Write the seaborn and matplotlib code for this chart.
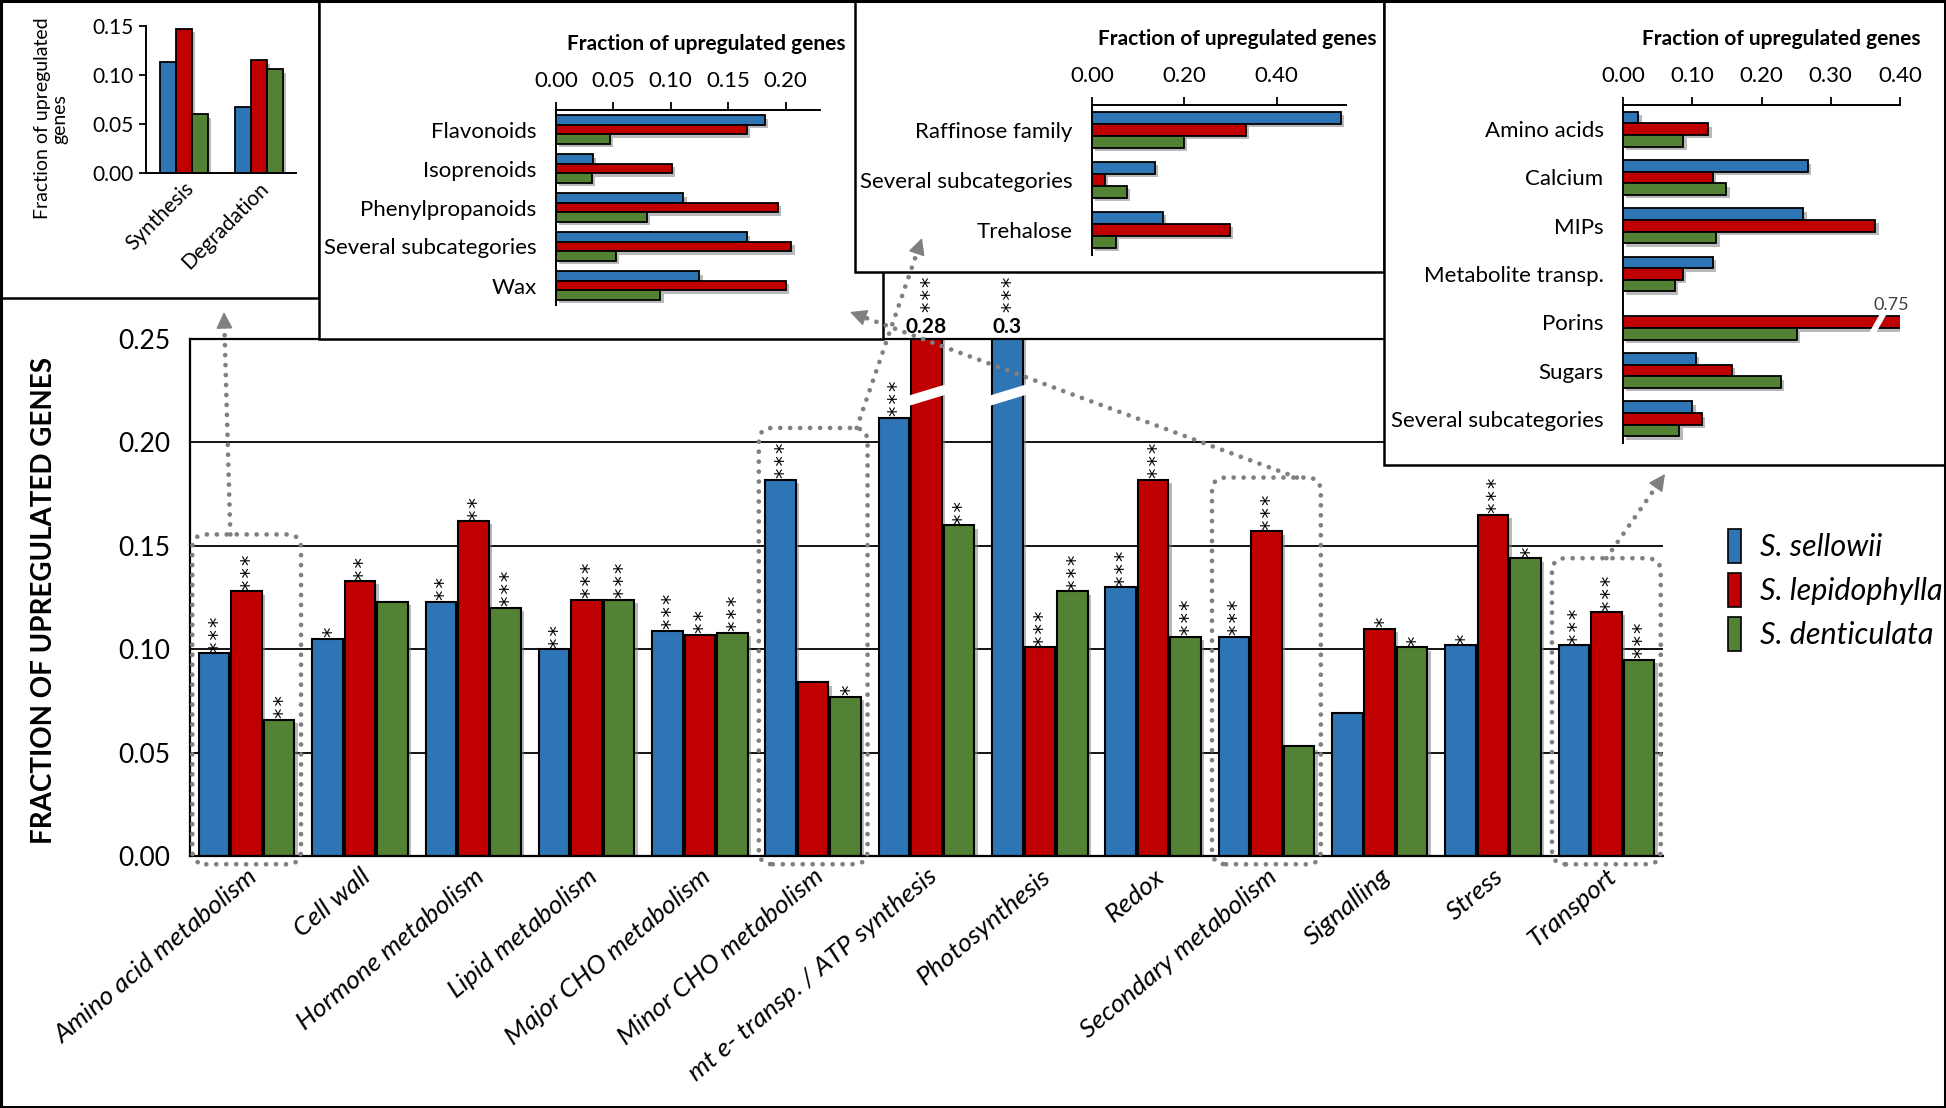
import numpy as np
import pandas as pd
import matplotlib
matplotlib.use("Agg")
import matplotlib.pyplot as plt
import matplotlib.patheffects as pe
import seaborn as sns
from matplotlib.patches import Rectangle, FancyBboxPatch, Polygon, Patch, FancyArrowPatch
from matplotlib.lines import Line2D
from matplotlib.transforms import IdentityTransform

# ---- data ----
species = ["S. sellowii", "S. lepidophylla", "S. denticulata"]
colors = ["#2E75B6", "#C00000", "#548235"]

categories = ["Amino acid metabolism", "Cell wall", "Hormone metabolism", "Lipid metabolism",
              "Major CHO metabolism", "Minor CHO metabolism", "mt e- transp. / ATP synthesis",
              "Photosynthesis", "Redox", "Secondary metabolism", "Signalling", "Stress", "Transport"]
sellowii = [0.098, 0.105, 0.123, 0.100, 0.109, 0.182, 0.212, 0.30, 0.130, 0.106, 0.069, 0.102, 0.102]
lepidophylla = [0.128, 0.133, 0.162, 0.124, 0.107, 0.084, 0.28, 0.101, 0.182, 0.157, 0.110, 0.165, 0.118]
denticulata = [0.066, 0.123, 0.120, 0.124, 0.108, 0.077, 0.160, 0.128, 0.106, 0.053, 0.101, 0.144, 0.095]
sig_sellowii = ["***", "*", "**", "**", "***", "***", "***", "***", "***", "***", "", "*", "***"]
sig_lepidophylla = ["***", "**", "**", "***", "**", "", "***", "***", "***", "***", "*", "***", "***"]
sig_denticulata = ["**", "", "***", "***", "***", "*", "**", "***", "***", "", "*", "*", "***"]

aa_categories = ["Synthesis", "Degradation"]
aa_sellowii = [0.113, 0.067]
aa_lepidophylla = [0.147, 0.115]
aa_denticulata = [0.060, 0.106]

sm_categories = ["Flavonoids", "Isoprenoids", "Phenylpropanoids", "Several subcategories", "Wax"]
sm_sellowii = [0.182, 0.032, 0.111, 0.166, 0.125]
sm_lepidophylla = [0.166, 0.101, 0.193, 0.205, 0.200]
sm_denticulata = [0.047, 0.031, 0.079, 0.052, 0.091]

minor_categories = ["Raffinose family", "Several subcategories", "Trehalose"]
minor_sellowii = [0.539, 0.136, 0.153]
minor_lepidophylla = [0.333, 0.028, 0.298]
minor_denticulata = [0.199, 0.075, 0.051]

tr_categories = ["Amino acids", "Calcium", "MIPs", "Metabolite transp.", "Porins", "Sugars",
                 "Several subcategories"]
tr_sellowii = [0.022, 0.267, 0.260, 0.130, np.nan, 0.105, 0.100]
tr_lepidophylla = [0.123, 0.130, 0.364, 0.086, 0.75, 0.157, 0.114]
tr_denticulata = [0.087, 0.149, 0.135, 0.075, 0.251, 0.228, 0.081]


def long_table(cats, a, b, c):
    return pd.DataFrame({"category": list(cats) * 3,
                         "species": np.repeat(species, len(cats)),
                         "value": list(a) + list(b) + list(c)})


plt.rcParams["font.family"] = ["Lato", "DejaVu Sans"]
W, H = 1946, 1108
fig = plt.figure(figsize=(W / 100, H / 100), dpi=100)
fig.patch.set_facecolor("white")
shadow = [pe.SimplePatchShadow(offset=(2.5, -2.5), shadow_rgbFace="0.5", alpha=0.55), pe.Normal()]
GRAY = "#808080"
DOTS = (0, (0.01, 2.1))


def px_axes(left, top, right, bottom, z):
    ax = fig.add_axes([left / W, 1 - bottom / H, (right - left) / W, (bottom - top) / H])
    ax.set_zorder(z)
    return ax


def px_box(left, top, right, bottom, z):
    fig.add_artist(Rectangle((left, H - bottom), right - left, bottom - top,
                             transform=IdentityTransform(), facecolor="white",
                             edgecolor="black", lw=1.8, zorder=z))


def style_bars(ax):
    for p in ax.patches:
        p.set_path_effects(shadow)


# ---- main chart ----
ax = px_axes(190, 339, 1663, 856, 1)
main_df = long_table(categories, sellowii, lepidophylla, denticulata)
sns.barplot(data=main_df, x="category", y="value", hue="species", order=categories,
            hue_order=species, palette=colors, saturation=1, width=0.86, gap=0.06,
            edgecolor="black", linewidth=1.5, errorbar=None, legend=False, ax=ax)
style_bars(ax)
ax.set_xlim(-0.5, len(categories) - 0.5)
ax.set_ylim(0, 0.25)
ax.set_yticks(np.arange(0, 0.251, 0.05))
ax.set_yticklabels([f"{t:.2f}" for t in np.arange(0, 0.251, 0.05)], fontsize=19)
ax.set_axisbelow(True)
ax.yaxis.grid(True, color="black", lw=1.3)
ax.spines["right"].set_visible(False)
for s in ["left", "bottom", "top"]:
    ax.spines[s].set_linewidth(1.6)
ax.tick_params(axis="y", length=0, pad=14)
ax.tick_params(axis="x", length=0, pad=6)
ax.set_xlabel("")
ax.set_ylabel("")
ax.set_xticks(range(len(categories)))
ax.set_xticklabels(categories, rotation=40, ha="right", rotation_mode="anchor",
                   fontsize=19, style="italic")
ax.set_facecolor("none")

sigs = [sig_sellowii, sig_lepidophylla, sig_denticulata]
for cont, sig in zip(ax.containers, sigs):
    for bar, s in zip(cont, sig):
        cx = bar.get_x() + bar.get_width() / 2
        h = bar.get_height()
        if h > 0.25:
            ax.text(cx, 0.2512, f"{h:g}", ha="center", va="bottom", fontsize=15,
                    fontweight="bold", clip_on=False)
            base = 0.2625
            y0, w = 0.2175, bar.get_width()
            ax.add_patch(Polygon([(bar.get_x() - 0.03, y0), (bar.get_x() + w + 0.03, y0 + 0.0055),
                                  (bar.get_x() + w + 0.03, y0 + 0.0105), (bar.get_x() - 0.03, y0 + 0.005)],
                                 facecolor="white", edgecolor="none", zorder=5))
        else:
            base = h
        if s:
            # asterisks stacked vertically above the bar
            ax.annotate("\u200a".join(s), (cx, base), xytext=(3.2, 1), textcoords="offset points",
                        rotation=90, ha="center", va="bottom", fontsize=15,
                        family=["DejaVu Sans", "Noto Sans"], annotation_clip=False)

fig.text(44 / W, 1 - 600 / H, "FRACTION OF UPREGULATED GENES", rotation=90, ha="center",
         va="center", fontsize=20, fontweight="bold")

handles = [Patch(facecolor=c, edgecolor="black", lw=1.2) for c in colors]
fig.legend(handles, species, loc="center left", bbox_to_anchor=(1700 / W, 1 - 590 / H),
           frameon=False, prop={"style": "italic", "size": 22}, handlelength=0.45,
           handleheight=1.3, handletextpad=0.6, labelspacing=0.35)

# ---- inset boxes and axes ----
px_box(0, 0, 319, 298, 2)
px_box(319, 0, 883, 339, 4)
px_box(855, 0, 1384, 272, 6)
px_box(1384, 0, 1946, 465, 8)

# amino acid inset (vertical)
ax1 = px_axes(146, 26, 296, 173, 3)
sns.barplot(data=long_table(aa_categories, aa_sellowii, aa_lepidophylla, aa_denticulata),
            x="category", y="value", hue="species", hue_order=species, palette=colors,
            saturation=1, width=0.64, edgecolor="black", linewidth=1.3, errorbar=None,
            legend=False, ax=ax1)
style_bars(ax1)
ax1.set_xlim(-0.5, 1.5)
ax1.set_ylim(0, 0.15)
ax1.set_yticks([0, 0.05, 0.10, 0.15])
ax1.set_yticklabels(["0.00", "0.05", "0.10", "0.15"], fontsize=15)
ax1.tick_params(axis="y", length=5, width=1.3, direction="out", pad=4)
ax1.tick_params(axis="x", length=0, pad=4)
ax1.set_xticks([0, 1])
ax1.set_xticklabels(aa_categories, rotation=45, ha="right", rotation_mode="anchor", fontsize=15)
for s in ["top", "right"]:
    ax1.spines[s].set_visible(False)
for s in ["left", "bottom"]:
    ax1.spines[s].set_linewidth(1.4)
ax1.set_xlabel("")
ax1.set_ylabel("Fraction of upregulated\ngenes", fontsize=14, linespacing=1.0)
ax1.yaxis.set_label_coords(-0.52, 0.37)
ax1.set_facecolor("none")


def horizontal_inset(rect, z, cats, a, b, c, xmax, ticks, labels):
    axh = px_axes(*rect, z)
    sns.barplot(data=long_table(cats, a, b, c), y="category", x="value", hue="species",
                order=cats, hue_order=species, palette=colors, saturation=1, orient="h",
                width=0.72, edgecolor="black", linewidth=1.3, errorbar=None, legend=False,
                ax=axh)
    style_bars(axh)
    axh.set_xlim(0, xmax)
    axh.set_ylim(len(cats) - 0.5, -0.5)
    axh.xaxis.tick_top()
    axh.xaxis.set_label_position("top")
    axh.set_xticks(ticks)
    axh.set_xticklabels(labels, fontsize=16)
    axh.tick_params(axis="x", length=6, width=1.3, direction="out", pad=8)
    axh.tick_params(axis="y", length=0, pad=14, labelsize=16)
    for s in ["bottom", "right"]:
        axh.spines[s].set_visible(False)
    axh.spines["top"].set_linewidth(1.4)
    axh.spines["left"].set_linewidth(1.4)
    axh.set_ylabel("")
    axh.set_xlabel("Fraction of upregulated genes", fontsize=15, fontweight="bold", labelpad=15)
    axh.xaxis.label.set_x(0.57)
    axh.set_facecolor("none")
    return axh


horizontal_inset((556, 110, 820, 305), 5, sm_categories, sm_sellowii, sm_lepidophylla,
                 sm_denticulata, 0.23, [0, 0.05, 0.10, 0.15, 0.20],
                 ["0.00", "0.05", "0.10", "0.15", "0.20"])
horizontal_inset((1092, 105, 1346, 255), 7, minor_categories, minor_sellowii,
                 minor_lepidophylla, minor_denticulata, 0.55, [0, 0.2, 0.4],
                 ["0.00", "0.20", "0.40"])
ax4 = horizontal_inset((1623, 105, 1900, 443), 9, tr_categories, tr_sellowii, tr_lepidophylla,
                       tr_denticulata, 0.40, [0, 0.1, 0.2, 0.3, 0.4],
                       ["0.00", "0.10", "0.20", "0.30", "0.40"])
porin = ax4.containers[1][tr_categories.index("Porins")]
py0, ph = porin.get_y(), porin.get_height()
ax4.add_patch(Polygon([(0.356, py0 + ph + 0.08), (0.366, py0 + ph + 0.08),
                       (0.382, py0 - 0.08), (0.372, py0 - 0.08)],
                      facecolor="white", edgecolor="none", zorder=5, clip_on=False))
ax4.text(0.388, py0 - 0.08, f"{porin.get_width():.2f}", ha="center", va="bottom",
         fontsize=13, color="#404040")

# ---- dotted group boxes and arrows ----
box_tops = {"Amino acid metabolism": 0.1555, "Minor CHO metabolism": 0.207,
            "Secondary metabolism": 0.183, "Transport": 0.144}
arrow_tips = {"Amino acid metabolism": (0.35, (224, 312)),
              "Minor CHO metabolism": (0.9, (922, 238)),
              "Secondary metabolism": (0.78, (850, 312)),
              "Transport": (0.5, (1665, 474))}
for name, top in box_tops.items():
    j = categories.index(name)
    x0, y0 = ax.transData.transform((j - 0.48, -0.004))
    x1, y1 = ax.transData.transform((j + 0.48, top))
    fig.add_artist(FancyBboxPatch((x0, y0), x1 - x0, y1 - y0,
                                  boxstyle="round,pad=0,rounding_size=14",
                                  transform=IdentityTransform(), fill=False, edgecolor=GRAY,
                                  lw=3.4, linestyle=DOTS, capstyle="round", zorder=20))
    frac, (tx, ty) = arrow_tips[name]
    sx, sy = x0 + frac * (x1 - x0), y1
    ty = H - ty
    d = np.hypot(tx - sx, ty - sy)
    ux, uy = (tx - sx) / d, (ty - sy) / d
    fig.add_artist(Line2D([sx, tx - 14 * ux], [sy, ty - 14 * uy], transform=IdentityTransform(),
                          color=GRAY, lw=3.4, linestyle=DOTS, dash_capstyle="round", zorder=20))
    fig.add_artist(FancyArrowPatch((tx - 16 * ux, ty - 16 * uy), (tx, ty), arrowstyle="-|>",
                                   mutation_scale=26, color=GRAY, lw=1, shrinkA=0, shrinkB=0,
                                   transform=IdentityTransform(), zorder=21))

# outer frame
fig.add_artist(Rectangle((1, 1), W - 2, H - 2, transform=IdentityTransform(), fill=False,
                         edgecolor="black", lw=2.2, zorder=30))

fig.savefig("out.png", dpi=100)
